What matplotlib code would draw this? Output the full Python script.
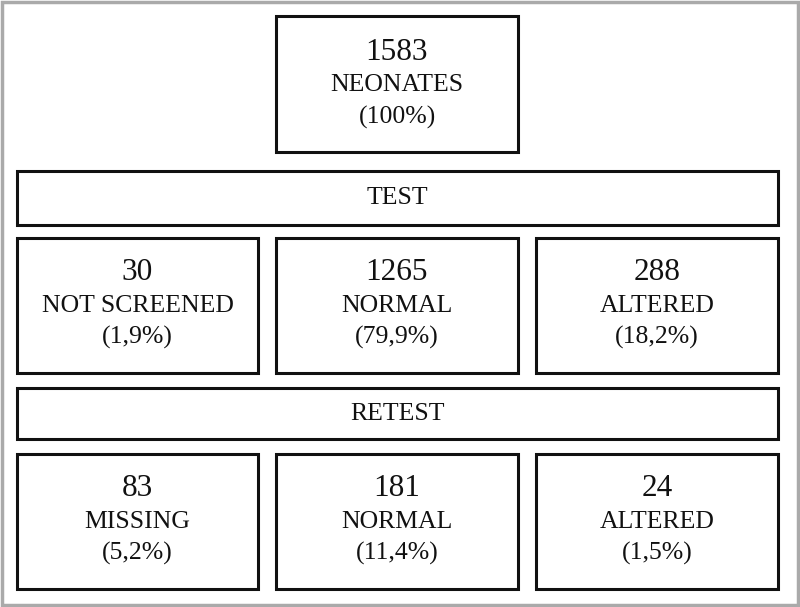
import matplotlib.pyplot as plt
from matplotlib.patches import Rectangle

plt.rcParams['font.family'] = ['Liberation Serif', 'DejaVu Serif']

# dati del diagramma
top_count = 1583
top_label = 'NEONATES'
top_pct = '(100%)'

test_counts = [30, 1265, 288]
test_labels = ['NOT SCREENED', 'NORMAL', 'ALTERED']
test_pcts = ['(1,9%)', '(79,9%)', '(18,2%)']

retest_counts = [83, 181, 24]
retest_labels = ['MISSING', 'NORMAL', 'ALTERED']
retest_pcts = ['(5,2%)', '(11,4%)', '(1,5%)']

stage_names = ['TEST', 'RETEST']

# layout in pixel (x0, x1) per colonna, (y0, y1) per riga
cols = [(17, 258), (276, 518), (536, 778)]
row_test = (238, 373)
row_retest = (454, 589)
bar_test = (171, 225)
bar_retest = (388, 439)

fig = plt.figure(figsize=(8, 6.07), dpi=100)
ax = fig.add_axes([0, 0, 1, 1])
ax.set_xlim(0, 800)
ax.set_ylim(607, 0)
ax.axis('off')

# bordo grigio esterno
fig.patches.append(Rectangle((0.002, 0.003), 0.995, 0.994, transform=fig.transFigure,
                             fill=False, edgecolor='#aaaaaa', linewidth=2.5))

lw = 2.2


def box(x0, x1, y0, y1):
    ax.add_patch(Rectangle((x0, y0), x1 - x0, y1 - y0, fill=False,
                           edgecolor='#111111', linewidth=lw))


def three_lines(xc, yc, n, lab, pct):
    ax.text(xc, yc - 33, str(n), ha='center', va='center', fontsize=22.5, color='#111111')
    ax.text(xc, yc, lab, ha='center', va='center', fontsize=18.5, color='#111111')
    ax.text(xc, yc + 32, pct, ha='center', va='center', fontsize=18.5, color='#111111')


# riquadro iniziale
box(276, 518, 16, 152)
three_lines(397, 85, top_count, top_label, top_pct)

# barre TEST / RETEST
for name, (y0, y1) in zip(stage_names, [bar_test, bar_retest]):
    box(cols[0][0], cols[2][1], y0, y1)
    ax.text((cols[0][0] + cols[2][1]) / 2, (y0 + y1) / 2, name, ha='center',
            va='center', fontsize=18.5, color='#111111')

# righe dei risultati
for (y0, y1), counts, labels, pcts in [(row_test, test_counts, test_labels, test_pcts),
                                         (row_retest, retest_counts, retest_labels, retest_pcts)]:
    for (x0, x1), n, lab, pct in zip(cols, counts, labels, pcts):
        box(x0, x1, y0, y1)
        three_lines((x0 + x1) / 2, (y0 + y1) / 2, n, lab, pct)

fig.savefig('out.png', dpi=100, facecolor='white')
